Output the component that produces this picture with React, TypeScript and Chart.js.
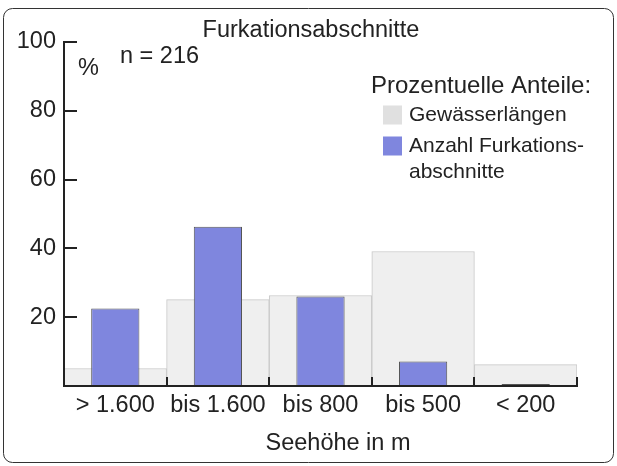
import React, { useEffect, useRef } from "react";
import { Chart, registerables } from "chart.js";
Chart.register(...registerables);

const categories = ["> 1.600", "bis 1.600", "bis 800", "bis 500", "< 200"];
const gewaesserlaengen = [5.1, 25.1, 26.3, 39.1, 6.2];
const furkationsabschnitte = [22.5, 46.3, 26.0, 7.1, 0.6];
const yTicks = [20, 40, 60, 80, 100];
const chartTitle = "Furkationsabschnitte";
const sampleNote = "n = 216";
const unitLabel = "%";
const xAxisTitle = "Seehöhe in m";
const legendTitle = "Prozentuelle Anteile:";
const seriesLabels = ["Gewässerlängen", ["Anzahl Furkations-", "abschnitte"]];

const FONT = "'Liberation Sans', Arial, sans-serif";
const FS = 23.5;
const FS_LEGEND = 21;
const TEXT = "#222";
const GREY_FILL = "#efefef";
const GREY_BORDER = "#c8c8c8";
const BLUE_FILL = "#7f86de";
const BLUE_BORDER = "#555";

const decorPlugin = {
  id: "decor",
  beforeDraw(chart: any) {
    const ctx = chart.ctx;
    ctx.save();
    ctx.fillStyle = "#fff";
    ctx.fillRect(0, 0, chart.width, chart.height);
    ctx.strokeStyle = "#333";
    ctx.lineWidth = 1;
    ctx.beginPath();
    (ctx as any).roundRect(3.5, 8.5, 610, 454, 9);
    ctx.stroke();
    ctx.restore();
  },
  afterDatasetsDraw(chart: any) {
    const ctx = chart.ctx;
    const xs = chart.scales.x;
    const ys = chart.scales.y;
    const y0 = ys.getPixelForValue(0);
    const yTop = ys.getPixelForValue(100);
    const left = chart.chartArea.left;
    const step = xs.getPixelForValue(1) - xs.getPixelForValue(0);
    ctx.save();
    ctx.strokeStyle = TEXT;
    ctx.lineWidth = 2;
    ctx.beginPath();
    ctx.moveTo(left, yTop - 1);
    ctx.lineTo(left, y0 + 1);
    ctx.stroke();
    yTicks.forEach((v) => {
      const py = Math.round(ys.getPixelForValue(v));
      ctx.beginPath();
      ctx.moveTo(left, py);
      ctx.lineTo(left + 13, py);
      ctx.stroke();
    });
    const lastRight = xs.getPixelForValue(categories.length - 1) + step / 2;
    ctx.beginPath();
    ctx.moveTo(left - 1, y0);
    ctx.lineTo(lastRight + 1, y0);
    ctx.stroke();
    for (let i = 1; i <= categories.length; i++) {
      const px = Math.round(xs.getPixelForValue(i - 1) + step / 2);
      ctx.beginPath();
      ctx.moveTo(px, y0);
      ctx.lineTo(px, y0 - 9);
      ctx.stroke();
    }
    ctx.restore();
  },
  afterDraw(chart: any) {
    const ctx = chart.ctx;
    const ds = chart.data.datasets;
    ctx.save();
    ctx.fillStyle = TEXT;
    ctx.font = `${FS}px ${FONT}`;
    ctx.textBaseline = "middle";
    ctx.textAlign = "center";
    ctx.fillText(chartTitle, 311, 31);
    ctx.fillText(xAxisTitle, 338, 444);
    ctx.textAlign = "left";
    ctx.fillText(sampleNote, 120, 57);
    ctx.fillText(unitLabel, 78, 69);
    ctx.font = `24px ${FONT}`;
    ctx.fillText(legendTitle, 371, 86);
    ctx.font = `${FS_LEGEND}px ${FONT}`;
    const items = [
      { color: "#e0e0e0", label: seriesLabels[0], y: 115 },
      { color: ds[0].backgroundColor, label: seriesLabels[1], y: 146 },
    ];
    items.forEach((it) => {
      ctx.fillStyle = it.color;
      ctx.fillRect(383, it.y - 9.5, 19, 19);
      ctx.fillStyle = TEXT;
      const lines = Array.isArray(it.label) ? it.label : [it.label];
      lines.forEach((l: string, k: number) => ctx.fillText(l, 409, it.y + k * 26.5));
    });
    ctx.restore();
  },
};

export default function App() {
  const ref = useRef<HTMLCanvasElement>(null);
  useEffect(() => {
    document.body.style.margin = "0";
    const chart = new Chart(ref.current!, {
      type: "bar",
      data: {
        labels: categories,
        datasets: [
          {
            label: "Anzahl Furkationsabschnitte",
            data: furkationsabschnitte,
            backgroundColor: BLUE_FILL,
            borderColor: BLUE_BORDER,
            borderWidth: 1,
            barPercentage: 0.47,
            categoryPercentage: 1,
            grouped: false,
            order: 1,
          },
          {
            label: "Gewässerlängen",
            data: gewaesserlaengen,
            backgroundColor: GREY_FILL,
            borderColor: GREY_BORDER,
            borderWidth: 1,
            barPercentage: 1,
            categoryPercentage: 1,
            grouped: false,
            order: 2,
          },
        ],
      },
      options: {
        animation: false,
        responsive: false,
        layout: { padding: { left: 0, right: 40, top: 42, bottom: 0 } },
        plugins: { legend: { display: false }, tooltip: { enabled: false }, title: { display: false } },
        scales: {
          x: {
            grid: { display: false, drawTicks: false },
            border: { display: false },
            ticks: { color: TEXT, font: { family: FONT, size: FS }, padding: 5, maxRotation: 0, autoSkip: false },
            afterFit: (s: any) => { s.height = 80; },
          },
          y: {
            min: 0,
            max: 100,
            grid: { display: false, drawTicks: false },
            border: { display: false },
            ticks: {
              stepSize: 20,
              color: TEXT,
              font: { family: FONT, size: FS },
              padding: 8,
              callback: (v: any) => (yTicks.includes(Number(v)) ? String(v) : ""),
            },
            afterFit: (s: any) => { s.width = 64; },
          },
        },
      },
      plugins: [decorPlugin],
    });
    return () => chart.destroy();
  }, []);
  return (
    <div style={{ position: "fixed", left: 0, top: 0, width: 617, height: 466 }}>
      <canvas ref={ref} width={617} height={466} style={{ display: "block" }} />
    </div>
  );
}
